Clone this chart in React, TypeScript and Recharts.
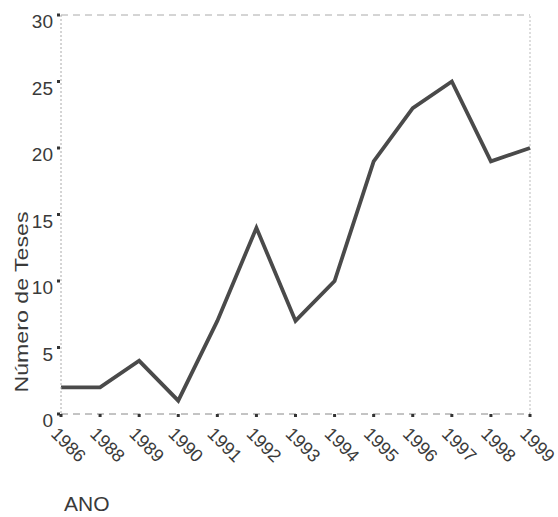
import React from "react";
import { LineChart, Line, XAxis, YAxis, ReferenceLine } from "recharts";

const years = ["1986", "1988", "1989", "1990", "1991", "1992", "1993", "1994", "1995", "1996", "1997", "1998", "1999"];
const teses = [2, 2, 4, 1, 7, 14, 7, 10, 19, 23, 25, 19, 20];
const yTicks = [0, 5, 10, 15, 20, 25, 30];

const data = years.map((y, i) => ({ ano: y, teses: teses[i] }));

const FONT = "'Liberation Sans', Arial, Helvetica, sans-serif";
const TXT = "#3a3a3a";

const XTick = (props: any) => {
  const { x, y, payload } = props;
  const px = x - 11;
  const py = y + 21;
  return (
    <g>
      <rect x={x - 1.5} y={y} width={3} height={3} fill="#333" />
      <text
        x={px}
        y={py}
        transform={`rotate(45, ${px}, ${py})`}
        textAnchor="start"
        fontSize={18}
        fontFamily={FONT}
        fill={TXT}
      >
        {payload.value}
      </text>
    </g>
  );
};

const YTick = (props: any) => {
  const { x, y, payload } = props;
  return (
    <g>
      <rect x={x - 4} y={y - 1.5} width={3} height={3} fill="#333" />
      <text x={x - 8} y={y + 13} textAnchor="end" fontSize={19} fontFamily={FONT} fill={TXT}>
        {payload.value}
      </text>
    </g>
  );
};

export default function App() {
  return (
    <div style={{ position: "absolute", left: 0, top: 0, background: "#fff" }}>
      <LineChart
        width={558}
        height={517}
        data={data}
        margin={{ top: 15, right: 28, bottom: 0, left: 0 }}
      >
        <XAxis
          dataKey="ano"
          height={103}
          tickSize={0}
          tickMargin={0}
          interval={0}
          tick={<XTick />}
          axisLine={{ stroke: "#888", strokeDasharray: "7 5", strokeWidth: 1 }}
          label={{
            content: () => (
              <text x={64} y={511} fontSize={21} fontFamily={FONT} fill={TXT}>
                ANO
              </text>
            ),
          }}
        />
        <YAxis
          width={61}
          domain={[0, 30]}
          ticks={yTicks}
          tickSize={0}
          tickMargin={0}
          interval={0}
          tick={<YTick />}
          axisLine={{ stroke: "#aaa", strokeDasharray: "2 2", strokeWidth: 1 }}
          label={{
            content: () => (
              <text
                x={28}
                y={302}
                transform="rotate(-90, 28, 302)"
                textAnchor="middle"
                fontSize={18}
                fontFamily={FONT}
                fill={TXT}
                textLength={181}
                lengthAdjust="spacingAndGlyphs"
              >
                Número de Teses
              </text>
            ),
          }}
        />
        <ReferenceLine y={30} stroke="#aaa" strokeDasharray="7 5" />
        <ReferenceLine x="1999" stroke="#bbb" strokeDasharray="2 2" />
        <Line
          type="linear"
          dataKey="teses"
          stroke="#4a4a4a"
          strokeWidth={3.8}
          dot={false}
          activeDot={false}
          strokeLinejoin="miter"
          isAnimationActive={false}
        />
      </LineChart>
    </div>
  );
}
